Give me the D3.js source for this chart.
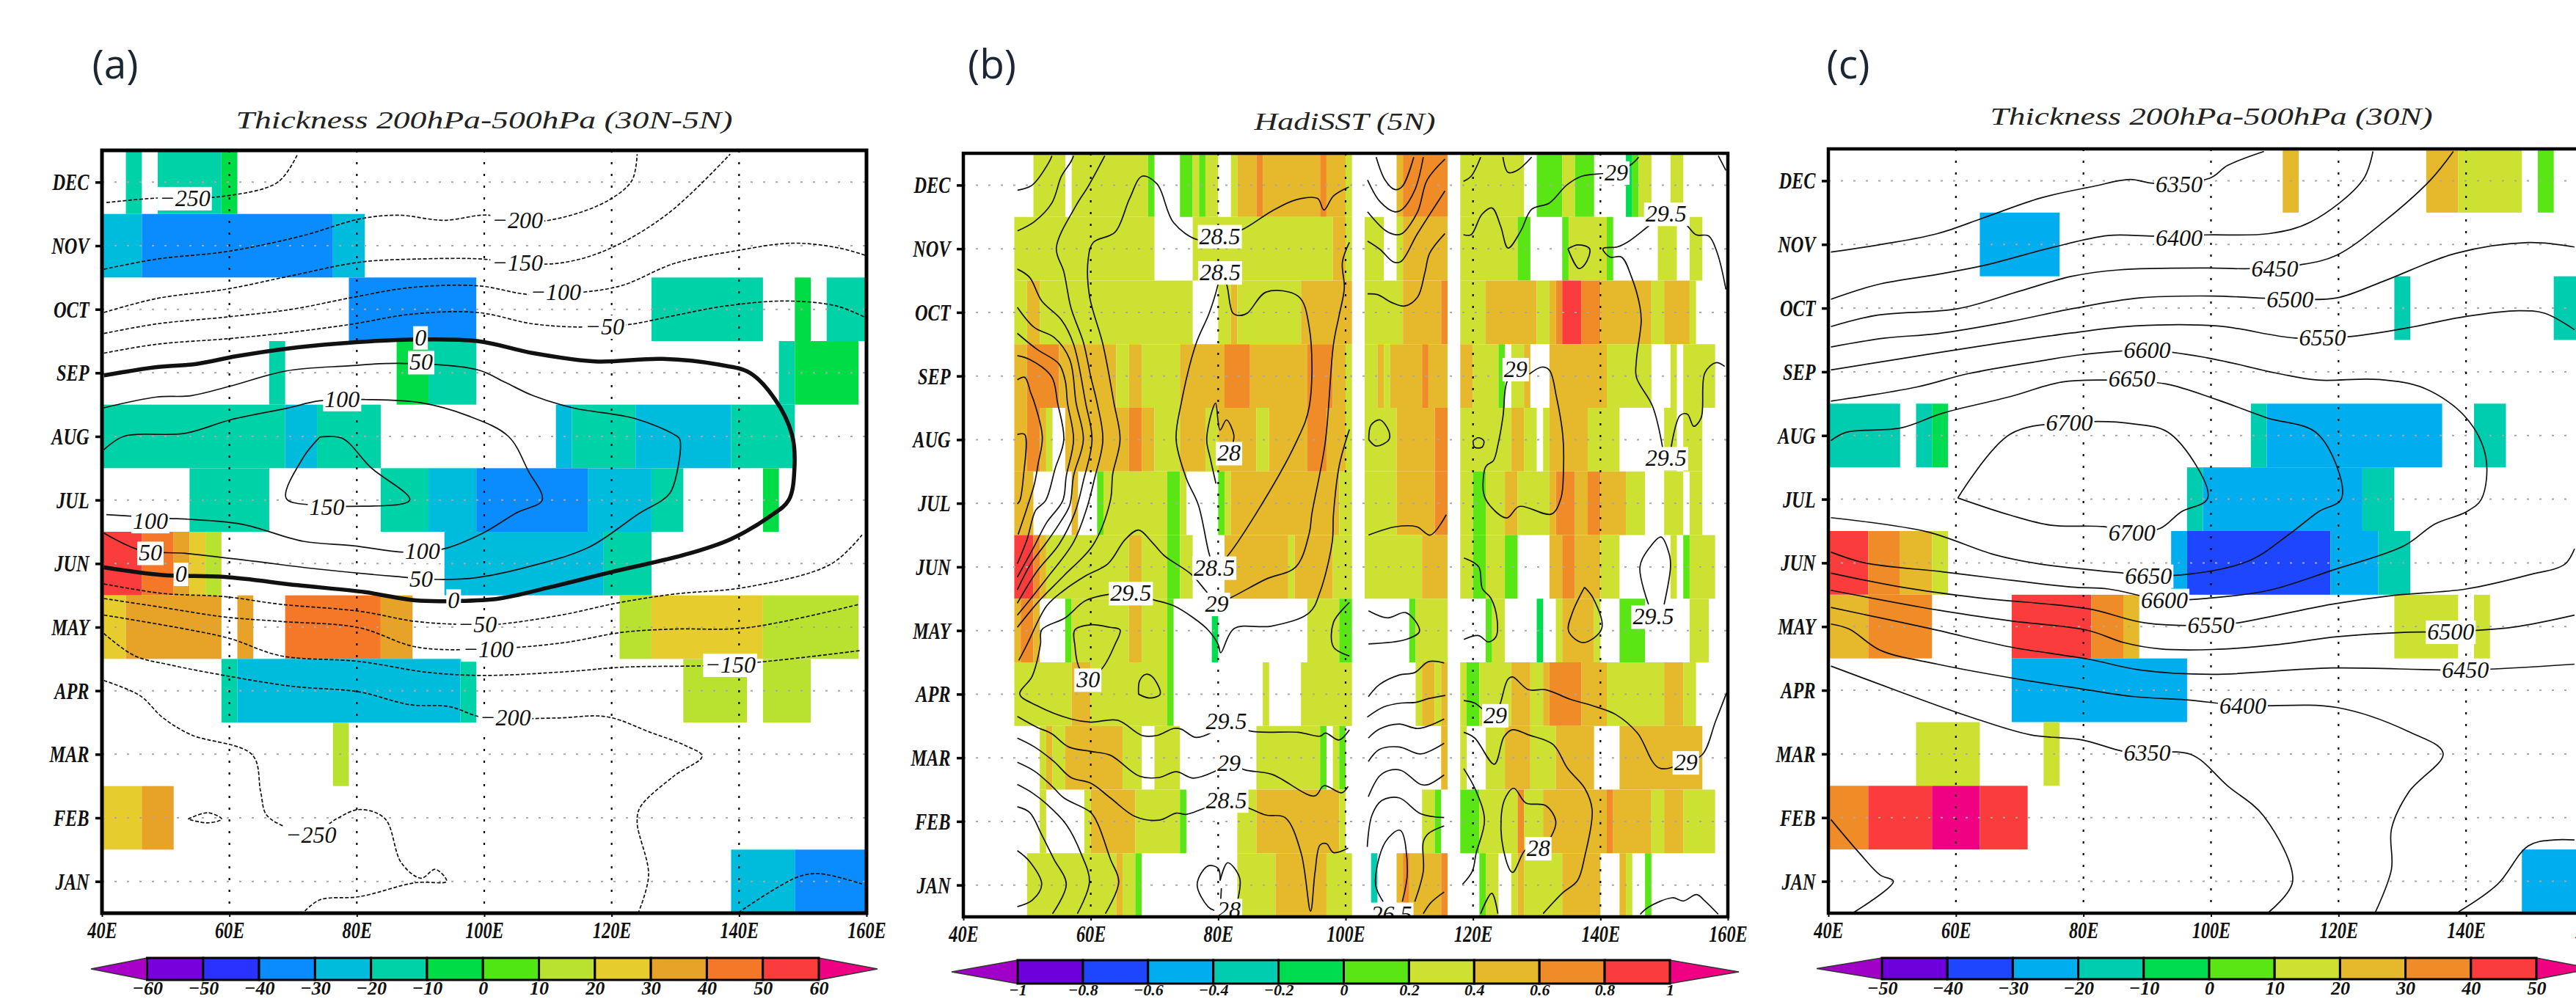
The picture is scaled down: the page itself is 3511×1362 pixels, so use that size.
<!DOCTYPE html>
<html>
<head>
<meta charset="utf-8">
<script src="https://cdn.jsdelivr.net/npm/d3@7"></script>
<style>
  body { margin: 0; background: #fff; overflow: hidden; }
  #wrapper { width: 3511px; height: 1362px; }
</style>
</head>
<body>
<div id="wrapper"></div>
<script>
const monthNames = ["JAN", "FEB", "MAR", "APR", "MAY", "JUN", "JUL", "AUG", "SEP", "OCT", "NOV", "DEC"];
const monthNums = [1, 2, 3, 4, 5, 6, 7, 8, 9, 10, 11, 12];
const lonTicks = [40, 60, 80, 100, 120, 140, 160];
const lonGrid = [60, 80, 100, 120, 140];

const barTicksA = [-60, -50, -40, -30, -20, -10, 0, 10, 20, 30, 40, 50, 60];
const barTicksB = [-1, -0.8, -0.6, -0.4, -0.2, 0, 0.2, 0.4, 0.6, 0.8, 1];
const barTicksC = [-50, -40, -30, -20, -10, 0, 10, 20, 30, 40, 50];
const paletteA = ["#a800c8", "#7800dc", "#2a32ff", "#0a8cff", "#00bcdc", "#00d2a8", "#00dc46", "#50e614", "#b8e130", "#e6cd2d", "#e6a328", "#f47828", "#fa3c3c", "#f00082"];
const paletteB = ["#a000c8", "#6e00dc", "#1e46ff", "#00aef0", "#00ccb0", "#00dc50", "#5ae614", "#cde132", "#e6b92d", "#f08c28", "#fa3c3c", "#f00082"];

// shaded cells: month, lon from, lon to, value
const cellsA = [
  [12,43.75,46.25,-15],[12,48.75,58.75,-15],[12,58.75,61.25,-5],
  [11,40,46.25,-25],[11,46.25,76.25,-35],[11,76.25,81.25,-25],
  [10,78.75,98.75,-35],[10,126.25,143.75,-15],[10,148.75,151.25,-5],[10,153.75,160,-15],
  [9,66.25,68.75,-15],[9,86.25,91.25,-5],[9,91.25,98.75,-15],[9,146.25,148.75,-15],[9,148.75,158.75,-5],
  [8,40,68.75,-15],[8,68.75,73.75,-25],[8,73.75,83.75,-15],[8,111.25,113.75,-25],[8,113.75,123.75,-15],[8,123.75,138.75,-25],[8,138.75,148.75,-15],
  [7,53.75,66.25,-15],[7,83.75,91.25,-15],[7,91.25,98.75,-25],[7,98.75,116.25,-35],[7,116.25,126.25,-25],[7,126.25,131.25,-15],[7,143.75,146.25,-5],
  [6,40,46.25,55],[6,46.25,51.25,45],[6,51.25,53.75,35],[6,53.75,56.25,25],[6,56.25,58.75,15],[6,93.75,118.75,-25],[6,118.75,126.25,-15],
  [5,40,43.75,25],[5,43.75,58.75,35],[5,61.25,63.75,35],[5,68.75,83.75,45],[5,83.75,88.75,35],[5,121.25,126.25,15],[5,126.25,143.75,25],[5,143.75,158.75,15],
  [4,58.75,61.25,-15],[4,61.25,96.25,-25],[4,96.25,98.75,-15],[4,131.25,141.25,15],[4,143.75,151.25,15],
  [3,76.25,78.75,15],
  [2,40,46.25,25],[2,46.25,51.25,35],
  [1,138.75,148.75,-25],[1,148.75,160,-35]
];
const cellsB = [
  [12,51,56,.3],[12,57,69,.3],[12,69,70,.1],[12,74,76,.1],[12,76,77,.3],[12,77,78,.1],[12,78,80,.3],[12,82,83,.3],[12,83,86,.5],[12,86,87,.7],[12,87,96,.5],[12,96,97,.7],[12,97,100,.5],[12,100,101,.3],
  [12,108,109,.5],[12,109,116,.7],[12,118,128,.3],[12,130,134,.1],[12,134,136,.3],[12,136,139,.1],[12,144,145,-.1],[12,145,146,.1],[12,146,148,.3],[12,151,153,.3],
  [11,48,70,.3],[11,76,98,.3],[11,98,100,.5],[11,100,101,.3],[11,103,106,.3],[11,108,109,.3],[11,109,116,.5],[11,118,127,.3],[11,127,129,.1],[11,134,135,.1],[11,135,141,.3],[11,141,142,.1],[11,149,152,.3],[11,154,156,.3],
  [10,48,50,.3],[10,50,52,.5],[10,52,76,.3],[10,80,82,.3],[10,82,83,.5],[10,83,93,.3],[10,93,101,.5],[10,103,109,.3],[10,109,115,.5],[10,115,116,.7],[10,118,122,.3],[10,122,130,.5],[10,130,132,.3],[10,132,133,.5],[10,133,134,.7],[10,134,137,.9],[10,137,140,.7],[10,140,148,.5],[10,148,150,.3],[10,150,154,.5],[10,154,155,.3],
  [9,48,50,.5],[9,50,55,.7],[9,55,64,.5],[9,64,66,.3],[9,66,68,.5],[9,68,74,.3],[9,74,81,.5],[9,81,85,.7],[9,85,94,.5],[9,94,98,.7],[9,98,100,.5],[9,100,101,.3],[9,103,105,.3],[9,105,106,.5],[9,106,107,.3],[9,107,112,.5],[9,112,113,.7],[9,113,116,.5],[9,118,120,.5],[9,120,124,.3],[9,124,125,.1],[9,126,128,.3],[9,128,129,.5],[9,132,141,.5],[9,141,148,.3],[9,151,152,.3],[9,153,158,.3],
  [8,48,50,.5],[8,50,52,.7],[8,52,53,.5],[8,53,54,.3],[8,56,66,.5],[8,66,68,.7],[8,68,70,.5],[8,70,74,.3],[8,74,78,.5],[8,78,80,.3],[8,80,86,.5],[8,86,88,.3],[8,88,94,.5],[8,94,97,.7],[8,97,100,.5],[8,100,101,.3],[8,103,108,.3],[8,108,114,.5],[8,114,116,.7],[8,118,126,.3],[8,126,128,.5],[8,128,130,.3],[8,131,132,.3],[8,132,138,.5],[8,138,143,.3],[8,150,152,.3],[8,153,156,.3],
  [7,48,51,.5],[7,57,58,.5],[7,61,62,.1],[7,62,72,.3],[7,72,74,.1],[7,74,75,.3],[7,80,81,.1],[7,81,82,.3],[7,82,99,.5],[7,99,101,.3],[7,103,108,.3],[7,108,114,.5],[7,114,116,.7],[7,118,120,.3],[7,120,122,.1],[7,122,125,.3],[7,125,127,.5],[7,127,132,.3],[7,132,133,.5],[7,133,136,.7],[7,136,138,.5],[7,138,140,.7],[7,140,144,.5],[7,144,147,.3],[7,150,153,.3],[7,154,156,.3],
  [6,48,51,.9],[6,51,52,.7],[6,52,53,.5],[6,53,66,.3],[6,66,68,.5],[6,68,72,.3],[6,72,74,.1],[6,74,76,.3],[6,81,91,.5],[6,91,92,.3],[6,92,98,.5],[6,98,101,.3],[6,103,112,.3],[6,112,116,.5],[6,118,120,.3],[6,120,122,.1],[6,122,125,.3],[6,125,127,.1],[6,132,134,.5],[6,134,136,.7],[6,136,140,.5],[6,140,143,.3],[6,151,152,.3],[6,153,154,.1],[6,154,158,.3],
  [5,48,49,.5],[5,49,51,.7],[5,51,52,.5],[5,56,57,.1],[5,57,66,.3],[5,66,68,.5],[5,68,72,.3],[5,72,73,.1],[5,79,80,-.1],[5,94,99,.3],[5,99,101,.1],[5,110,111,.1],[5,111,116,.3],[5,122,123,.1],[5,123,125,.3],[5,130,131,-.1],[5,133,134,.3],[5,134,139,.5],[5,139,140,.3],[5,143,147,.1],[5,154,157,.3],
  [4,48,57,.3],[4,57,60,.5],[4,60,72,.3],[4,72,73,.1],[4,87,88,.3],[4,93,101,.3],[4,111,112,.3],[4,112,114,.5],[4,114,115,.3],[4,115,116,.5],[4,118,119,.3],[4,119,121,.1],[4,121,126,.3],[4,126,129,.5],[4,129,131,.3],[4,131,132,.5],[4,132,137,.7],[4,137,141,.5],[4,141,150,.3],[4,150,153,.5],[4,153,155,.3],
  [3,52,53,.3],[3,53,54,.5],[3,54,56,.3],[3,56,65,.5],[3,65,68,.3],[3,70,74,.3],[3,86,96,.3],[3,96,97,.1],[3,98,99,.3],[3,99,100,.1],[3,115,116,.5],[3,118,119,.3],[3,122,125,.3],[3,125,129,.5],[3,129,133,.3],[3,133,139,.5],[3,143,156,.5],
  [2,52,53,.3],[2,59,60,.3],[2,60,67,.5],[2,67,74,.3],[2,74,75,.1],[2,83,86,.3],[2,86,99,.5],[2,99,100,.3],[2,112,114,.3],[2,114,115,.1],[2,118,121,.1],[2,121,127,.3],[2,127,128,.7],[2,128,131,.3],[2,131,141,.5],[2,141,142,.7],[2,142,148,.5],[2,148,150,.3],[2,150,153,.5],[2,153,158,.3],
  [1,50,64,.3],[1,64,65,.5],[1,65,67,.3],[1,67,68,.1],[1,83,89,.3],[1,89,97,.5],[1,97,101,.3],[1,104,105,-.3],[1,108,109,.5],[1,109,110,.7],[1,110,115,.5],[1,115,116,.7],[1,121,122,.1],[1,122,124,.3],[1,126,127,.3],[1,127,128,.5],[1,128,134,.3],[1,134,140,.5],[1,143,144,.5],[1,144,145,.3],[1,147,148,.1]
];
const cellsC = [
  [12,111.25,113.75,25],[12,133.75,138.75,25],[12,138.75,148.75,15],[12,151.25,153.75,5],
  [11,63.75,76.25,-25],
  [10,128.75,131.25,-15],[10,153.75,160,-15],
  [8,40,51.25,-15],[8,53.75,56.25,-15],[8,56.25,58.75,-5],[8,106.25,108.75,-15],[8,108.75,136.25,-25],[8,141.25,146.25,-15],
  [7,96.25,98.75,-15],[7,98.75,123.75,-25],[7,123.75,128.75,-15],
  [6,40,46.25,45],[6,46.25,51.25,35],[6,51.25,56.25,25],[6,56.25,58.75,15],[6,93.75,96.25,-25],[6,96.25,118.75,-35],[6,118.75,126.25,-25],[6,126.25,131.25,-15],
  [5,40,46.25,25],[5,46.25,56.25,35],[5,68.75,81.25,45],[5,81.25,86.25,35],[5,86.25,88.75,25],[5,128.75,138.75,15],[5,141.25,143.75,15],
  [4,68.75,96.25,-25],
  [3,53.75,63.75,15],[3,73.75,76.25,15],
  [2,40,46.25,35],[2,46.25,56.25,45],[2,56.25,63.75,55],[2,63.75,71.25,45],
  [1,148.75,160,-25]
];

// contours: level, then [lon, month] points
const contoursA = [
  [-250, [[40.7,11.68],[48.6,11.75],[59.2,11.78],[67.6,12],[70.7,12.44]]],
  [-200, [[40.3,10.63],[48.6,10.79],[59.7,10.91],[71.6,11.16],[80.4,11.42],[86.6,11.48],[93.6,11.4],[100.7,11.48],[104.2,11.36],[112.1,11.44],[119.6,11.72],[123.2,12.03],[124,12.44]]],
  [-150, [[40.3,9.95],[48.6,10.17],[59.7,10.32],[68.9,10.51],[80.4,10.74],[89.2,10.79],[99.8,10.79],[104.2,10.73],[112.1,10.73],[119.6,10.95],[128.9,11.51],[138.6,12.44]]],
  [-100, [[40.3,9.62],[48.6,9.77],[59.7,9.88],[69.8,10],[79.5,10.19],[88.3,10.34],[98.9,10.37],[107.3,10.23],[115.6,10.27],[121.8,10.38],[129.8,10.72],[139.5,10.92],[148.3,11.04],[155.4,10.97],[159.8,10.85]]],
  [-50, [[40.3,9.31],[48.6,9.45],[60.1,9.54],[69.8,9.64],[79.5,9.77],[88.3,9.92],[98.9,9.95],[107.7,9.77],[115.7,9.72],[122.7,9.76],[129.8,9.9],[137.7,10.05],[147.4,10.13],[155.4,10.05],[159.8,9.87]]],
  [0, [[40.3,8.96],[48.6,9.09],[54.8,9.14],[61,9.26],[68.9,9.38],[76.9,9.46],[87.4,9.52],[98.9,9.5],[107.7,9.31],[117.4,9.18],[128,9.22],[136.8,9.13],[141.7,9],[145.6,8.59],[148.3,8.03],[148.7,7.51],[147.8,7],[144.8,6.74],[138.6,6.38],[131.5,6.14],[120.1,5.87],[110.4,5.63],[102.4,5.45],[95.4,5.41],[89.2,5.42],[81.3,5.55],[70.7,5.66],[59.2,5.79],[49.5,5.82],[40.3,5.94]]],
  [50, [[40.3,8.45],[48.6,8.62],[53.9,8.64],[60.1,8.79],[68.9,9.03],[78.6,9.11],[86.6,9.15],[98.9,9.05],[103.3,8.85],[107.7,8.64],[113.9,8.45],[123.7,8.28],[129.8,8.03],[130.7,7.95],[129.4,7.15],[128,7],[124.5,6.8],[116.5,6.26],[107.7,5.97],[98.9,5.78],[92.7,5.75],[85.7,5.8],[73.3,5.92],[63.6,6.04],[53.1,6.16],[46,6.21],[40.3,6.48]]],
  [100, [[40.3,7.79],[43.4,8],[53.1,8.05],[60.1,8.26],[68.9,8.44],[74.2,8.56],[81.3,8.58],[90.1,8.53],[97.3,8.33],[103.8,8],[106.9,7.46],[109.1,7],[105.1,6.8],[99.8,6.48],[93.6,6.23],[87.4,6.18],[79.5,6.28],[71.6,6.35],[61.9,6.62],[53.1,6.7],[50.5,6.71],[40.7,6.77]]],
  [150, [[74.2,7.99],[77.7,7.97],[82.2,7.51],[88.3,7],[78.6,6.9],[72.9,6.92],[68.9,7.03],[71.6,7.67],[74.2,7.99]]],
  [-50, [[40.3,5.68],[49.5,5.53],[59.2,5.48],[68,5.36],[80.4,5.25],[89.2,5.09],[97.1,5.04],[101.6,5.04],[112.1,5.19],[120.9,5.38],[129.8,5.52],[141.2,5.63],[154.4,5.99],[159.3,6.45]]],
  [-100, [[40.3,5.45],[49.5,5.31],[59.2,5.16],[68,5.09],[80.4,4.99],[89.2,4.69],[98.9,4.65],[112.1,4.75],[121.8,4.92],[129.8,4.97],[141.2,4.99],[158.9,5.36]]],
  [-150, [[40.3,5.19],[53.1,4.97],[60.1,4.82],[68,4.55],[80.4,4.46],[91,4.29],[99.8,4.24],[113,4.3],[121.8,4.37],[138.6,4.41],[158.9,4.63]]],
  [-200, [[40.3,4.9],[45.1,4.55],[50.5,4.41],[59.2,4.24],[69.8,4.07],[80.4,3.98],[88.3,3.78],[94.5,3.75],[99.8,3.58],[111.3,3.57],[119.2,3.59],[126.2,3.34],[131.5,3.14],[134.2,2.97],[129.8,2.66],[124.5,2.17],[124,1.93],[125.8,1.1],[124.2,.51]]],
  [-250, [[40.3,4.16],[46,3.92],[49.5,3.58],[53.9,3.31],[63.6,2.99],[64.9,2.41],[65.8,2.05],[68.9,1.85],[72.8,1.73],[76.9,1.99],[80.4,2.13],[84.4,1.99],[87,1.29],[90.1,1.05],[92.3,1.19],[94.1,1],[89.2,.98],[80.4,.76],[74.2,.71],[71.6,.51]]],
  [-250, [[53.5,1.98],[56.6,2.08],[58.8,1.98],[56.6,1.92],[53.5,1.98]]],
  [-200, [[139.9,.51],[149.2,1.07],[152.7,1.12],[159.3,.96]]]
];
const labelsA = [
  [53,11.75,"−250"],[105.2,11.4,"−200"],[105.2,10.73,"−150"],[111.2,10.27,"−100"],[118.9,9.73,"−50"],[90,9.56,"0"],[90.1,9.17,"50"],[77.7,8.59,"100"],[75.3,6.89,"150"],
  [47.6,6.67,"100"],[90.3,6.2,"100"],[47.6,6.17,"50"],[90.1,5.76,"50"],[52.4,5.84,"0"],[95.2,5.42,"0"],[98.9,5.04,"−50"],[100.6,4.65,"−100"],[138.6,4.41,"−150"],[103.3,3.58,"−200"],[72.8,1.73,"−250"]
];

const contoursB = [
  [29, [[48.5,11.92],[50.8,12],[53.5,12.37],[53.9,12.46]]],
  [29, [[48.5,11.28],[51.2,11.43],[53.9,11.72],[55.4,12.14],[56.9,12.37],[57.3,12.46]]],
  [29, [[48.48,8.94],[49.63,8.98],[50.6,8.73],[51.17,8.575],[52.4,8.04],[51.74,7.62],[51.17,7.31],[50,6.93],[48.6,6.51]]],
  [29, [[48.48,9.32],[50.4,9.26],[53.85,8.99],[54.8,8.575],[55.77,8],[54.4,7.54],[52.9,7.04],[51.36,6.89],[50,6.43],[48.48,6.05]]],
  [29, [[48.48,9.67],[51.55,9.42],[55,9.19],[56,8.92],[56.35,8.575],[57.3,8],[56.16,7.43],[55.6,7.04],[53.1,6.7],[51,6.3],[48.48,5.84]]],
  [29, [[48.48,10.08],[51.17,9.76],[54.2,9.61],[56.7,9.26],[57.7,8.575],[58.84,8],[57.3,7.43],[56.7,6.97],[55.2,6.7],[53.1,6.39],[50.6,6.05],[48.48,5.64]]],
  [29, [[48.48,10.68],[50.4,10.55],[52.3,10.18],[55.4,9.88],[57.3,9.5],[59.2,8.575],[60.2,8],[58.84,7.35],[57.5,6.85],[55,6.35],[51.55,5.93],[48.48,5.43]]],
  [29, [[62.2,12.46],[59.6,11.98],[57.7,11.68],[54.6,11.01],[55.77,10.64],[56.9,10.07],[58.84,9.53],[60,8.99],[61,8.575],[61.9,8],[60.6,7.39],[59.4,6.93],[57.3,6.39],[53.1,5.82],[48.48,5.24]]],
  [28.5, [[100.5,11.97],[98.1,11.83],[96.6,11.61],[95.6,11.79],[92.2,11.77],[88.4,11.59],[83.75,11.3],[80.26,11.2],[76.9,11.14],[73,11.41],[70.4,12.02],[68.06,12.14],[66.1,11.79],[63.8,11.26],[60.4,11.1],[59.6,10.84],[59.8,10.26],[61.9,9.5],[63.64,8.575],[64.6,8],[63.45,7.46],[63.07,7.04],[60.4,6.35],[55.77,5.86],[51.93,5.47],[48.48,5.05]]],
  [28.5, [[80.3,10.63],[80,10.45],[78.6,9.99],[76.5,9.5],[74.2,8.57],[73.4,8],[75,7.39],[76.9,6.97],[78.6,6.2],[79.4,5.99],[81.2,6.14],[85.9,6.83],[92.2,7.95],[94.3,8.52],[94.3,9.76],[92.6,10.25],[87.55,10.32],[84.6,9.99],[83.4,9.95],[82.3,9.99],[81.3,10.45],[80.3,10.63]]],
  [29, [[100.6,11.1],[99.5,10.79],[99.8,10.38],[99,9.96],[98.1,9.5],[96.8,7.95],[94.7,6.83],[94.3,6.53],[92.2,6],[87.55,5.81],[82.06,5.52],[79.7,5.42],[78,5.63],[75.7,5.89],[71.5,6.18],[69.6,6.39],[67.5,6.58],[65.4,6.43],[62.7,6.05],[59.2,5.86],[55.77,5.63],[53.1,5.39],[50,4.78],[48.7,4.53]]],
  [29.5, [[100.6,8.16],[99,7.59],[98.1,6.83],[97.9,6.39],[96,5.61],[94.3,5.28],[88.4,5.07],[82.5,5.03],[80.4,4.65],[80,4.78],[78.4,5.01],[76.1,5.2],[73,5.39],[69.6,5.49],[66.3,5.59],[63,5.57],[59.2,5.47],[56,5.2],[52.3,5.01],[52.1,4.78],[50.8,4.28],[48.86,4],[51.55,3.82],[56.9,3.61],[60,3.56],[64.2,3.59],[68.06,3.35],[70.36,3.35],[73,3.46],[74.2,3.45],[76.5,3.32],[79.2,3.41],[81.3,3.58],[85,3.42],[92.6,3.4],[96,3.34],[96.84,3.39],[98.95,3.28],[100.6,3.44]]],
  [29, [[48.48,3.65],[51.55,3.48],[53.85,3.38],[56.54,3.17],[60,3.1],[63.07,3.04],[67.67,2.71],[70.74,2.69],[73.4,2.78],[76.1,2.68],[79.57,2.79],[81.7,2.92],[84.2,2.81],[88.4,2.74],[95.15,2.4],[96.6,2.56],[99.4,2.45],[100.4,2.55]]],
  [28.5, [[48.48,3.31],[51.17,3.17],[54.24,2.94],[56.9,2.69],[60,2.6],[63.07,2.37],[66.9,2.08],[70.74,2.02],[73.4,2.13],[74.97,2.11],[77.65,2.2],[81.3,2.33],[85,2.2],[87.5,2.1],[90.5,2.06],[93,1.51],[94.5,.59],[95.2,1.2],[96,1.63],[97,1.65],[98.1,1.51],[100.4,1.58]]],
  [28, [[48.48,2.93],[51.17,2.79],[53.85,2.56],[55.77,2.37],[60,2.14],[61.15,1.95],[63.07,1.41],[64.4,1.05],[62.3,.55]]],
  [28, [[48.48,2.58],[50.8,2.45],[53.1,2.27],[56.16,1.95],[58.5,1.49],[59.8,1.05],[57.9,.55]]],
  [28, [[48.48,2.23],[50.4,2.14],[52.3,1.79],[54.2,1.41],[56.16,1.01],[54,.55]]],
  [28, [[48.48,1.54],[50.4,1.37],[52.3,1.01],[50.8,.76],[48.48,.66]]],
  [30, [[57.5,4.78],[57.5,5.01],[60,5.09],[63,5.05],[64.6,5.01],[63.8,4.78],[61.9,4.42],[59.6,4.23],[58.08,4.44],[57.5,4.78]]],
  [30, [[67.5,4],[67.67,4.21],[68.6,4.31],[69.6,4.28],[70.9,4],[69.2,3.94],[67.5,4]]],
  [28, [[80.3,1.07],[80,1.26],[78.4,1.3],[76.7,1.01],[78.4,.66],[79.4,.6]]],
  [28, [[80.3,1.07],[81.5,1.35],[83.4,1.1],[82.8,.66]]],
  [28, [[80.5,.95],[80.3,.58]]],
  [28, [[79.65,7.31],[78.8,7.69],[78.2,8],[79.2,8.5],[79.6,8.575],[80.3,8.15],[81.3,8.31],[82.45,8.08],[82.3,7.94]]],
  [29, [[48.48,8.08],[49.63,8.08],[49.44,7.43],[48.86,7.04],[48.48,6.99]]],
  [29, [[100.6,5.44],[98.1,5.13],[98.1,4.74],[100.6,4.6]]],
  [28, [[103.57,3.96],[105.3,4.15],[108.4,4.3],[110.86,4.34],[113,4.51],[115.47,4.49]]],
  [28, [[103.4,3.64],[106,3.8],[108.75,3.86],[111,3.87],[113,3.93],[115.66,3.98]]],
  [28, [[103.57,3.31],[105.3,3.45],[108.4,3.53],[111.4,3.46],[115.47,3.61]]],
  [28, [[103.57,2.94],[105.3,3.13],[108.4,3.17],[111.8,3.06],[115.47,3.23]]],
  [28, [[103.57,2.39],[105.3,2.71],[106.8,2.8],[108.75,2.8],[111.8,2.58],[113,2.58],[115.47,2.73]]],
  [28, [[103.4,1.6],[104.15,2.1],[105.7,2.33],[108.4,2.37],[111.8,2.12],[115.47,2.06]]],
  [28, [[105.9,.74],[104.7,1.01],[106.26,1.68],[108.56,1.86],[109.7,1.22],[108.9,.74]]],
  [28, [[110.86,.74],[112.2,1.22],[112.2,1.68],[113,1.81],[115.47,1.93]]],
  [28, [[112.2,.55],[113.36,.72],[115.47,.89]]],
  [28, [[104.8,12.44],[106.2,12.08],[107.75,11.93],[108.9,11.98],[110.7,12.44]]],
  [28, [[103.45,12.08],[105.4,11.74],[107.75,11.58],[108.9,11.62],[110.9,11.93],[112.2,12.44]]],
  [28, [[103.45,11.58],[106.2,11.29],[107.9,11.22],[108.9,11.24],[111.3,11.58],[112.8,12.08],[115.6,12.41]]],
  [28, [[103.45,11.12],[105.4,10.99],[107.55,10.79],[108.7,10.8],[111.3,11.24],[115.6,11.91]]],
  [28, [[103.45,10.29],[105,10.28],[107.35,10.15],[109.3,10.1],[111.3,10.24],[112.44,10.62],[113.2,10.93],[115.6,11.24]]],
  [28, [[103.64,8],[104,8.23],[105.4,8.31],[106.8,8.13],[106.8,8],[104.8,7.9],[103.64,8]]],
  [28, [[103.6,6.5],[107.8,6.63],[111.2,6.63],[113.3,6.5],[115.8,6.82]]],
  [28, [[103.6,5.31],[106.55,5.2],[109.5,5.28],[111.6,4.99],[109.5,4.86],[103.6,4.79]]],
  [29, [[118.5,12.06],[119.7,12.14],[121.2,12.44]]],
  [29, [[124.7,12.44],[125.5,12.2],[126.9,12.23],[129.2,12.44]]],
  [29, [[146,12.44],[144.9,12.33],[142.5,12.2],[140.2,12.18],[137.05,12.14],[134.7,12],[132,11.72],[129.2,11.62],[127.5,11.28],[125.5,11.01],[124.35,11.35],[123,11.64],[121.4,11.54],[119.7,11.22],[118.5,11.22]]],
  [29, [[134.9,11],[136.5,11.06],[138.3,11],[137.6,10.76],[136.6,10.69],[134.9,11]]],
  [29.5, [[149.75,7.88],[148.2,8.52],[145.65,8.98],[145.65,9.25],[146.4,9.86],[146.2,10.09],[144.9,10.55],[143.3,10.87],[141.5,10.87],[140.4,11],[142.7,11.03],[144.5,11.12],[148,11.39],[150.3,11.55],[153.5,11.37],[155,11.22],[157,11.2],[158.35,10.93],[159.7,10.36]]],
  [29.5, [[151.1,7.88],[152.5,8.38],[153.66,8.4],[154.64,8.21],[155.8,8.34],[156.4,9.05],[158.16,9.21],[159.5,9.15]]],
  [29, [[126.7,9.11],[125.3,8.9],[124.7,8.36],[123.96,7.94],[123.2,7.67],[122.2,7.6],[121.85,7.54],[121.66,7.16],[122.6,6.97],[125.3,6.77],[127.26,6.95],[132.3,6.83],[133.8,7.08],[134.2,7.54],[134.1,8.06],[133.1,8.67],[132,9.09],[130.8,9.14],[128.85,9.03]]],
  [29, [[120,7.98],[120.8,8.03],[121.7,7.98],[121.4,7.88],[120.25,7.88],[120,7.98]]],
  [29, [[118.57,6.14],[120.9,6],[121.46,5.66],[122.8,5.51],[123.8,5.16],[123.6,4.9],[122.4,4.82],[120.9,4.92],[118.57,4.86]]],
  [29, [[137.5,5.68],[138.85,5.51],[140.2,5.03],[137.3,4.81],[135,4.99],[135.6,5.28],[137.5,5.68]]],
  [29.5, [[150,5.41],[151,6],[150.8,6.2],[149.5,6.47],[147.7,6.3],[146.2,6],[147.55,5.41]]],
  [29, [[118.54,3.9],[120.27,3.86],[121.6,3.76],[123.5,3.67],[124.3,3.86],[125.45,4.23],[126.2,4.27],[128.7,4.07],[131.4,4.07],[135.24,3.92],[138.7,3.82],[142.4,3.68],[145.8,3.39],[149.2,2.84],[153.4,2.93],[156,3.05],[158.1,3.58],[159.8,4.02]]],
  [28.5, [[118.54,3.4],[120.27,3.31],[123.34,2.9],[124.87,3.33],[126.2,3.44],[128.7,3.36],[132.55,3.21],[134.86,2.83],[137.54,2.52],[138.7,2.18],[137.54,1.45],[136.4,1.07],[134,.87],[131,.55]]],
  [28, [[132.2,1.75],[133,2],[131.4,2.25],[128.3,2.29],[126.4,2.52],[124.9,2.33],[124.5,1.72],[126.2,1.2],[128.3,1.56],[130.25,1.58],[132.2,1.75]]],
  [28, [[118.54,2.83],[120.47,2.48],[121.8,2.02],[120.47,1.49],[119.9,1.22],[118.35,1.01]]],
  [28, [[121.2,.55],[122.95,.87],[123.9,.55]]],
  [28, [[146.25,.54],[147.5,.65],[151.3,.8],[153,.75],[155.1,.85],[156.4,.75],[158.5,.54]]],
  [28, [[158.5,12.46],[159.7,12.23]]]
];
const labelsB = [
  [80.26,11.2,"28.5"],[80.3,10.63,"28.5"],[81.7,7.79,"28"],[79.4,5.99,"28.5"],[79.8,5.42,"29"],[66.3,5.59,"29.5"],[59.6,4.23,"30"],
  [81.3,3.58,"29.5"],[81.7,2.92,"29"],[81.3,2.33,"28.5"],[81.7,.61,"28"],[107.2,.55,"26.5"],[123.5,3.67,"29"],[130.25,1.58,"28"],[153.4,2.93,"29"],
  [148.3,5.22,"29.5"],[150.3,7.71,"29.5"],[126.7,9.11,"29"],[150.3,11.55,"29.5"],[142.5,12.2,"29"]
];

const contoursC = [
  [6350, [[40.4,10.88],[48.9,11.01],[57.1,11.17],[64.4,11.42],[73.3,11.73],[81.5,11.91],[87.3,12.02],[91,11.96],[99.8,12.04],[102.6,12.24],[108.3,12.46]]],
  [6400, [[40.4,10.14],[47.7,10.37],[57.1,10.53],[64.4,10.67],[75,10.95],[83.9,11.14],[91.2,11.13],[99.4,11.15],[109.1,11.17],[115.6,11.35],[123.8,12.01],[125.4,12.46]]],
  [6450, [[40.4,9.71],[47.7,9.89],[60.3,9.99],[70.1,10.27],[78.2,10.5],[85.5,10.6],[99.4,10.63],[106.3,10.62],[114,10.68],[119.7,10.83],[127,11.35],[134.4,12.01],[138,12.46]]],
  [6500, [[40.4,9.39],[48.9,9.53],[57.1,9.6],[68.5,9.79],[78.2,9.99],[88.8,10.16],[100.2,10.19],[112.4,10.14],[119.7,10.16],[127,10.42],[138.4,10.86],[149.8,11.03],[157,10.96]]],
  [6550, [[40.4,9.03],[52.2,9.22],[63.6,9.4],[78.2,9.61],[88,9.72],[101,9.72],[113.2,9.53],[121.4,9.55],[130.3,9.68],[140,9.87],[148.2,9.96],[152.3,9.92],[157,9.66]]],
  [6600, [[40.4,8.54],[53.8,8.76],[61.9,8.97],[73.3,9.17],[79.8,9.27],[90,9.34],[99.4,9.22],[110.7,8.97],[116.8,8.87],[126.2,8.88],[133.5,8.74],[140,8.28],[143.1,7.66],[142.4,7],[140,6.8],[135.1,6.61],[130.3,6.27],[118.9,5.88],[109.1,5.57],[100.2,5.45],[92.7,5.42],[83.9,5.59],[78.2,5.62],[66,5.76],[57.9,5.86],[45.7,6],[40.4,6.17]]],
  [6650, [[40.4,7.92],[42.8,8.05],[51.4,8.12],[57.9,8.35],[68.5,8.61],[76.6,8.84],[83.9,8.87],[92.9,8.81],[101,8.56],[108.7,8.28],[116.8,8.02],[120.5,7.02],[116.8,6.8],[112.4,6.46],[105.9,6.03],[95.3,5.81],[90.2,5.81],[86.3,5.84],[73.3,5.98],[66,6.13],[55.4,6.49],[40.4,6.71]]],
  [6700, [[60.3,7.02],[68.5,8.02],[77.8,8.2],[88,8.18],[93.7,8.02],[99.5,7.02],[95.3,6.8],[92,6.54],[87.6,6.49],[83.1,6.57],[75,6.59],[68.5,6.75],[60.3,7.02]]],
  [6550, [[40.4,5.84],[51.4,5.62],[63.6,5.45],[80.7,5.28],[89.6,5.06],[100,5.02],[104.3,5.06],[118.9,5.35],[128.7,5.49],[140,5.59],[149.8,5.81],[155.5,5.98],[157,6.22]]],
  [6500, [[40.4,5.57],[57.1,5.26],[68.5,5.09],[80.7,4.94],[86.3,4.75],[92,4.65],[100.2,4.64],[110.7,4.72],[119.7,4.84],[130.3,4.91],[137.6,4.92],[147.3,4.99],[157,5.18]]],
  [6450, [[40.4,5.3],[55.9,4.97],[68.5,4.68],[80.7,4.49],[88.8,4.32],[100.2,4.25],[118.9,4.35],[139.9,4.32],[157,4.41]]],
  [6400, [[40.4,5.04],[43.3,4.96],[48.1,4.63],[57.1,4.41],[70.1,4.17],[79.8,4.02],[88,3.9],[96.1,3.85],[105,3.76],[119.7,3.73],[131,3.35],[136.4,3.01],[131,2.4],[128.3,1.82],[128.3,1.19],[125.8,.52]]],
  [6350, [[40.4,4.38],[51.4,3.97],[62,3.59],[71.7,3.3],[79.8,3.22],[86.3,3.04],[90,3.02],[96.9,2.99],[102.6,2.5],[108.3,2.02],[112.8,1],[109.1,.52]]],
  [6300, [[40.4,1.97],[44.9,1.44],[48.1,1.1],[50.2,1],[44.1,.52]]],
  [6400, [[138.8,.52],[144.9,.95],[149.8,1.56],[153.8,1.65],[157,1.65]]]
];
const labelsC = [
  [95,11.95,"6350"],[95,11.1,"6400"],[110,10.62,"6450"],[112.4,10.14,"6500"],[117.5,9.54,"6550"],[90,9.34,"6600"],[87.6,8.89,"6650"],[77.8,8.2,"6700"],
  [87.6,6.48,"6700"],[90.2,5.8,"6650"],[92.7,5.42,"6600"],[100,5.02,"6550"],[137.6,4.92,"6500"],[139.9,4.32,"6450"],[105,3.76,"6400"],[90,3.02,"6350"]
];

const panels = [
  { letter: "(a)", letterX: 157, title: "Thickness 200hPa-500hPa (30N-5N)", titleX: 660, titleY: 175, titleLen: 677,
    left: 139, right: 1181, top: 205, bottom: 1245, frame: 5,
    cells: cellsA, contours: contoursA, labels: labelsA, bar: barTicksA, palette: paletteA, dashNeg: true,
    barX: [200.5, 1116], barY: [1306, 1336], tips: [124, 1196], barFont: 26, barBase: 1356 },
  { letter: "(b)", letterX: 1352, title: "HadiSST (5N)", titleX: 1833, titleY: 177, titleLen: 247,
    left: 1313, right: 2355, top: 209, bottom: 1250, frame: 4.5,
    cells: cellsB, contours: contoursB, labels: labelsB, bar: barTicksB, palette: paletteB, dashNeg: false,
    barX: [1387, 2276], barY: [1309, 1341], tips: [1297, 2370], barFont: 22, barBase: 1357 },
  { letter: "(c)", letterX: 2519, title: "Thickness 200hPa-500hPa (30N)", titleX: 3014, titleY: 170, titleLen: 603,
    left: 2492, right: 3535, top: 203, bottom: 1245, frame: 4.5,
    cells: cellsC, contours: contoursC, labels: labelsC, bar: barTicksC, palette: paletteB, dashNeg: false,
    barX: [2565, 3457], barY: [1306, 1335], tips: [2476, 3533], barFont: 26, barBase: 1356 }
];

const svg = d3.select("#wrapper").append("svg")
  .attr("width", 3511).attr("height", 1362)
  .attr("viewBox", [0, 0, 3511, 1362]);

const hershey = "'Liberation Serif', serif";
const minus = (d) => String(d).replace("-", "−");

function drawPanel(p, idx) {
  const x = d3.scaleLinear().domain([40, 160]).range([p.left, p.right]);
  const y = d3.scaleLinear().domain([0.5, 12.5]).range([p.bottom, p.top]);
  const color = d3.scaleThreshold().domain(p.bar).range(p.palette);
  const g = svg.append("g");

  g.append("text").attr("x", p.letterX).attr("y", 107).attr("text-anchor", "middle")
    .style("font-family", "'Open Sans', sans-serif").style("font-size", "55px").attr("fill", "#1c2733")
    .text(p.letter);

  g.append("text").attr("x", p.titleX).attr("y", p.titleY).attr("text-anchor", "middle")
    .attr("textLength", p.titleLen).attr("lengthAdjust", "spacingAndGlyphs")
    .style("font-family", hershey).style("font-style", "italic").style("font-size", "34px").attr("fill", "#222")
    .text(p.title);

  const clipId = "clip" + idx;
  g.append("clipPath").attr("id", clipId).append("rect")
    .attr("x", p.left).attr("y", p.top).attr("width", p.right - p.left).attr("height", p.bottom - p.top);
  const plot = g.append("g").attr("clip-path", `url(#${clipId})`);

  plot.append("g").selectAll("rect").data(p.cells).join("rect")
    .attr("x", (d) => x(d[1]))
    .attr("width", (d) => x(d[2]) - x(d[1]))
    .attr("y", (d) => y(d[0] + 0.5))
    .attr("height", (d) => y(d[0] - 0.5) - y(d[0] + 0.5))
    .attr("fill", (d) => color(d[3]));

  // dotted grid sits over the shading
  plot.append("g").selectAll("line").data(monthNums).join("line")
    .attr("x1", p.left).attr("x2", p.right)
    .attr("y1", (d) => y(d)).attr("y2", (d) => y(d))
    .attr("stroke", "#a8a8a8").attr("stroke-width", 2).attr("stroke-dasharray", "3 14");
  plot.append("g").selectAll("line").data(lonGrid).join("line")
    .attr("x1", (d) => x(d)).attr("x2", (d) => x(d))
    .attr("y1", p.top).attr("y2", p.bottom)
    .attr("stroke", "#000").attr("stroke-width", 2.2).attr("stroke-dasharray", "3 13");

  const line = d3.line().x((d) => x(d[0])).y((d) => y(d[1])).curve(d3.curveCatmullRom.alpha(0.5));
  plot.append("g").selectAll("path").data(p.contours).join("path")
    .attr("d", (d) => line(d[1]))
    .attr("fill", "none")
    .attr("stroke", "#111")
    .attr("stroke-width", (d) => (p.dashNeg && d[0] === 0 ? 5.5 : 1.7))
    .attr("stroke-dasharray", (d) => (p.dashNeg && d[0] < 0 ? "5 2.5" : null));

  // contour labels mask the line behind them
  const lab = plot.append("g").selectAll("g").data(p.labels).join("g")
    .attr("transform", (d) => `translate(${x(d[0])},${y(d[1])})`);
  lab.append("text").attr("text-anchor", "middle").attr("dy", "0.34em")
    .style("font-family", hershey).style("font-style", "italic").style("font-size", "32px").attr("fill", "#111")
    .text((d) => d[2]);
  lab.each(function () {
    const b = this.querySelector("text").getBBox();
    d3.select(this).insert("rect", "text")
      .attr("x", b.x - 2).attr("y", b.y + 3).attr("width", b.width + 4).attr("height", b.height - 4)
      .attr("fill", "#fff");
  });

  g.append("rect").attr("x", p.left).attr("y", p.top)
    .attr("width", p.right - p.left).attr("height", p.bottom - p.top)
    .attr("fill", "none").attr("stroke", "#000").attr("stroke-width", p.frame);

  const yAxis = g.append("g").attr("transform", `translate(${p.left},0)`)
    .call(d3.axisLeft(y).tickValues(monthNums).tickFormat((d) => monthNames[d - 1]).tickSize(9));
  const xAxis = g.append("g").attr("transform", `translate(0,${p.bottom})`)
    .call(d3.axisBottom(x).tickValues(lonTicks).tickFormat((d) => d + "E").tickSize(5));
  yAxis.select(".domain").remove();
  xAxis.select(".domain").remove();
  yAxis.selectAll("line").attr("stroke", "#000").attr("stroke-width", 3.5);
  xAxis.selectAll("line").attr("stroke", "#000").attr("stroke-width", 2);
  yAxis.selectAll("text").attr("x", -23).attr("dy", "0.33em").attr("transform", "scale(.76,1)");
  xAxis.selectAll("text").attr("y", 34).attr("dy", 0).attr("transform", "scale(.76,1)");
  g.selectAll("g.tick text")
    .style("font-family", hershey).style("font-style", "italic").style("font-weight", "bold")
    .style("font-size", "32px").attr("fill", "#111");

  // colour bar
  const bx = d3.scaleLinear().domain(d3.extent(p.bar)).range(p.barX);
  const bins = d3.pairs(p.bar);
  const bar = g.append("g");
  const midY = (p.barY[0] + p.barY[1]) / 2;
  bar.append("path")
    .attr("d", `M${p.barX[0]},${p.barY[0]}L${p.tips[0]},${midY}L${p.barX[0]},${p.barY[1]}Z`)
    .attr("fill", p.palette[0]).attr("stroke", "#333").attr("stroke-width", 1.5);
  bar.append("path")
    .attr("d", `M${p.barX[1]},${p.barY[0]}L${p.tips[1]},${midY}L${p.barX[1]},${p.barY[1]}Z`)
    .attr("fill", p.palette[p.palette.length - 1]).attr("stroke", "#333").attr("stroke-width", 1.5);
  bar.selectAll("rect").data(bins).join("rect")
    .attr("x", (d) => bx(d[0])).attr("width", (d) => bx(d[1]) - bx(d[0]))
    .attr("y", p.barY[0]).attr("height", p.barY[1] - p.barY[0])
    .attr("fill", (d, i) => p.palette[i + 1])
    .attr("stroke", "#000").attr("stroke-width", 3);
  const barAxis = g.append("g").attr("transform", `translate(0,${p.barY[1]})`)
    .call(d3.axisBottom(bx).tickValues(p.bar).tickFormat(minus).tickSize(0));
  barAxis.select(".domain").remove();
  barAxis.selectAll("text").attr("y", p.barBase - p.barY[1]).attr("dy", 0)
    .style("font-family", hershey).style("font-style", "italic").style("font-weight", "bold")
    .style("font-size", p.barFont + "px").attr("fill", "#111");
}

panels.forEach(drawPanel);
</script>
</body>
</html>
